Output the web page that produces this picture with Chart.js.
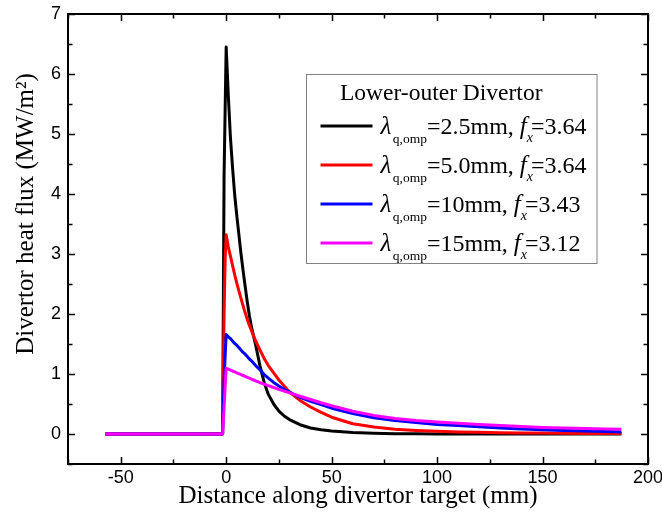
<!DOCTYPE html>
<html>
<head>
<meta charset="utf-8">
<script src="https://cdn.jsdelivr.net/npm/chart.js@4.4.1/dist/chart.umd.min.js"></script>
<style>
  html, body { margin: 0; padding: 0; background: #fff; }
  #wrap { width: 662px; height: 515px; position: relative; }
</style>
</head>
<body>
<div id="wrap"><canvas id="fluxChart"></canvas></div>
<script>
// distance along the target (mm), shared by all four profiles
const distance = [-57.4, -1.7, -1.0, -0.5, 0, 1, 2, 3, 4, 5, 6, 7, 8, 9, 10, 11, 12, 13, 14, 16, 18, 20,
  22.5, 25, 27.5, 30, 35, 40, 45, 50, 60, 70, 80, 90, 100, 110, 120, 130, 140, 150, 160, 170, 180, 187.4];

// heat flux (MW/m2) for each lambda_q,omp
const flux25 = [0, 0, 4.3, 5.4, 6.45, 5.65, 4.95, 4.45, 4.0, 3.65, 3.33, 3.01, 2.73, 2.46, 2.2, 1.97, 1.78, 1.63, 1.48, 1.14, 0.86, 0.66,
  0.5, 0.38, 0.3, 0.24, 0.155, 0.1, 0.07, 0.05, 0.025, 0.012, 0.006, 0.003, 0.002, 0.001, 0, 0, 0, 0, 0, 0, 0, 0];
const flux50 = [0, 0, 2.0, 2.9, 3.32, 3.12, 2.97, 2.81, 2.66, 2.52, 2.39, 2.26, 2.14, 2.02, 1.91, 1.81, 1.72, 1.63, 1.55, 1.40, 1.26, 1.14,
  1.02, 0.9, 0.8, 0.7, 0.56, 0.45, 0.36, 0.28, 0.17, 0.115, 0.08, 0.06, 0.045, 0.035, 0.028, 0.022, 0.018, 0.015, 0.012, 0.01, 0.008, 0.007];
const flux10 = [0, 0, 0.9, 1.3, 1.66, 1.62, 1.59, 1.55, 1.51, 1.48, 1.44, 1.40, 1.36, 1.33, 1.29, 1.25, 1.22, 1.18, 1.14, 1.07, 0.99, 0.93,
  0.86, 0.8, 0.745, 0.70, 0.61, 0.545, 0.49, 0.43, 0.34, 0.27, 0.225, 0.19, 0.16, 0.14, 0.12, 0.1, 0.085, 0.07, 0.058, 0.048, 0.04, 0.035];
const flux15 = [0, 0, 0.45, 0.78, 1.095, 1.08, 1.065, 1.05, 1.035, 1.02, 1.005, 0.99, 0.975, 0.96, 0.945, 0.93, 0.915, 0.9, 0.885, 0.855, 0.83, 0.805,
  0.775, 0.745, 0.715, 0.685, 0.63, 0.575, 0.52, 0.47, 0.38, 0.31, 0.26, 0.225, 0.2, 0.18, 0.16, 0.14, 0.125, 0.11, 0.1, 0.09, 0.085, 0.08];

const lambdaLabels = ['2.5mm', '5.0mm', '10mm', '15mm'];
const fxLabels = ['3.64', '3.64', '3.43', '3.12'];
const lineColors = ['#000000', '#ff0000', '#0000ff', '#ff00ff'];
const legendTitle = 'Lower-outer Divertor';

const xTicks = [-50, 0, 50, 100, 150, 200];
const xMinor = [-75, -25, 25, 75, 125, 175];
const yTicks = [0, 1, 2, 3, 4, 5, 6, 7];
const yMinor = [-0.5, 0.5, 1.5, 2.5, 3.5, 4.5, 5.5, 6.5];

const xTitle = 'Distance along divertor target (mm)';
const yTitle = 'Divertor heat flux (MW/m²)';

const SERIF = '"Liberation Serif", "Times New Roman", serif';
const SANS = '"Liberation Sans", Arial, sans-serif';

const series = [flux25, flux50, flux10, flux15];

// frame on all four sides with inward major/minor ticks
const frameTicks = {
  id: 'frameTicks',
  afterDraw(chart) {
    const { ctx, chartArea: a, scales: { x, y } } = chart;
    ctx.save();
    ctx.strokeStyle = '#000';
    ctx.lineWidth = 1.5;
    ctx.beginPath();
    const xt = (vals, len) => vals.forEach(v => {
      const p = Math.round(x.getPixelForValue(v)) + 0.5;
      ctx.moveTo(p, a.bottom); ctx.lineTo(p, a.bottom - len);
      ctx.moveTo(p, a.top); ctx.lineTo(p, a.top + len);
    });
    const yt = (vals, len) => vals.forEach(v => {
      const p = Math.round(y.getPixelForValue(v)) + 0.5;
      ctx.moveTo(a.left, p); ctx.lineTo(a.left + len, p);
      ctx.moveTo(a.right, p); ctx.lineTo(a.right - len, p);
    });
    xt(xTicks, 7); xt(xMinor, 4.5);
    yt(yTicks, 7); yt(yMinor, 4.5);
    ctx.stroke();
    ctx.lineWidth = 2;
    ctx.strokeRect(a.left, a.top, a.right - a.left, a.bottom - a.top);
    ctx.restore();
  }
};

// rotated y title, sitting a bit above the plot middle
const yAxisTitle = {
  id: 'yAxisTitle',
  afterDraw(chart) {
    const { ctx, chartArea: a } = chart;
    ctx.save();
    ctx.translate(a.left - 35, a.top + 200);
    ctx.rotate(-Math.PI / 2);
    ctx.font = '25px ' + SERIF;
    ctx.fillStyle = '#000';
    ctx.textAlign = 'center';
    ctx.textBaseline = 'alphabetic';
    ctx.fillText(yTitle, 0, 0);
    ctx.restore();
  }
};

function drawRun(ctx, x, base, parts) {
  parts.forEach(p => {
    ctx.font = p.font;
    ctx.fillText(p.text, x, base + (p.dy || 0));
    x += ctx.measureText(p.text).width + (p.kern || 0);
  });
}

// boxed legend with lambda_q,omp and f_x subscripts
const boxLegend = {
  id: 'boxLegend',
  afterDraw(chart) {
    const { ctx, chartArea: a } = chart;
    const bx = a.left + 238.5, by = a.top + 60.5;
    ctx.save();
    ctx.fillStyle = '#fff';
    ctx.fillRect(bx, by, 290.5, 189);
    ctx.strokeStyle = '#808080';
    ctx.lineWidth = 1;
    ctx.strokeRect(bx, by, 290.5, 189);
    ctx.fillStyle = '#000';
    ctx.textAlign = 'left';
    ctx.textBaseline = 'alphabetic';
    ctx.font = '23.5px ' + SERIF;
    ctx.fillText(legendTitle, bx + 33.5, by + 25.5);
    const main = '24px ' + SERIF;
    const ital = 'italic 25px ' + SERIF;
    const sub = '13.5px ' + SERIF;
    const subIt = 'italic 14px ' + SERIF;
    lambdaLabels.forEach((lam, i) => {
      const ly = by + 51.5 + i * 39;
      ctx.strokeStyle = lineColors[i];
      ctx.lineWidth = 3;
      ctx.beginPath();
      ctx.moveTo(bx + 14, ly);
      ctx.lineTo(bx + 66, ly);
      ctx.stroke();
      drawRun(ctx, bx + 74, ly + 8, [
        { text: 'λ', font: ital, kern: 1.5 },
        { text: 'q,omp', font: sub, dy: 9 },
        { text: '=' + lam + ', ', font: main },
        { text: 'f', font: ital },
        { text: 'x', font: subIt, dy: 8, kern: -2 },
        { text: '=' + fxLabels[i], font: main }
      ]);
    });
    ctx.restore();
  }
};

const labels = ['λq,omp=2.5mm, fx=3.64', 'λq,omp=5.0mm, fx=3.64', 'λq,omp=10mm, fx=3.43', 'λq,omp=15mm, fx=3.12'];

new Chart(document.getElementById('fluxChart'), {
  type: 'line',
  data: {
    datasets: series.map((vals, i) => ({
      label: labels[i],
      data: distance.map((d, k) => ({ x: d, y: vals[k] })),
      borderColor: lineColors[i],
      backgroundColor: lineColors[i],
      borderWidth: 3,
      borderJoinStyle: 'round',
      pointRadius: 0,
      tension: 0,
      fill: false,
      order: 3 - i
    }))
  },
  options: {
    responsive: true,
    maintainAspectRatio: false,
    animation: false,
    layout: { padding: { left: 0, top: 14, right: 14, bottom: 0 } },
    plugins: { legend: { display: false }, tooltip: { enabled: false } },
    scales: {
      x: {
        type: 'linear',
        min: -75,
        max: 200,
        afterBuildTicks: s => { s.ticks = xTicks.map(v => ({ value: v })); },
        afterFit: s => { s.height = 51; s.paddingLeft = 0; s.paddingRight = 0; },
        grid: { display: false, drawTicks: false },
        border: { display: false },
        ticks: { color: '#000', font: { family: SANS, size: 18 }, padding: 3, maxRotation: 0, autoSkip: false },
        title: { display: true, text: xTitle, color: '#000', font: { family: SERIF, size: 25 }, padding: { top: 0, bottom: 4 } }
      },
      y: {
        min: -0.5,
        max: 7,
        afterBuildTicks: s => { s.ticks = yTicks.map(v => ({ value: v })); },
        afterFit: s => { s.width = 68; s.paddingTop = 0; s.paddingBottom = 0; },
        grid: { display: false, drawTicks: false },
        border: { display: false },
        ticks: { color: '#000', font: { family: SANS, size: 18 }, padding: 7, autoSkip: false }
      }
    }
  },
  plugins: [frameTicks, yAxisTitle, boxLegend]
});
</script>
</body>
</html>
